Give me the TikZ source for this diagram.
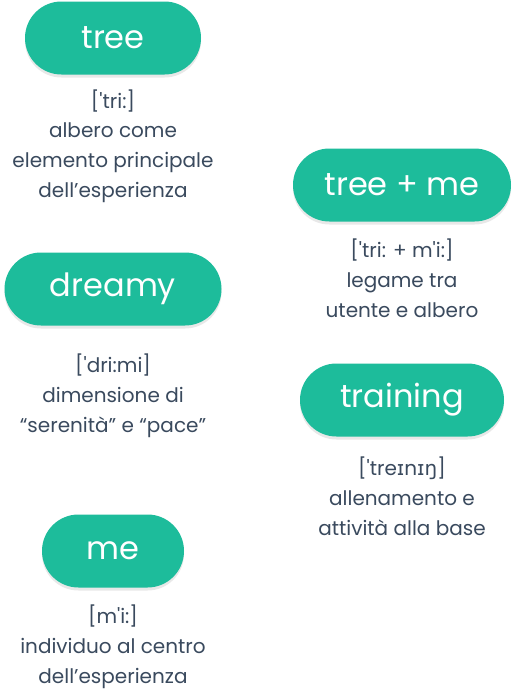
\documentclass[tikz,border=0pt]{standalone}
\usepackage{fontspec}
\newfontfamily\pop{Poppins}
\newfontfamily\dvs{DejaVu Sans}
\usetikzlibrary{shadows}
\definecolor{pillgreen}{HTML}{1DBC9B}
\definecolor{subtext}{HTML}{3A4A5E}
\tikzset{
  pill/.style={fill=pillgreen, text=white, rounded corners=36.5pt, minimum height=73pt,
    inner sep=0pt, font=\pop\fontsize{32}{38}\selectfont,
    drop shadow={opacity=0.18, shadow xshift=0pt, shadow yshift=-3pt}},
  subline/.style={text=subtext, font=\pop\fontsize{20}{29.6}\selectfont, align=center,
    inner sep=0pt, anchor=base}
}
\begin{document}
\begin{tikzpicture}[x=1pt,y=-1pt]
\useasboundingbox[fill=white] (0,0) rectangle (516,696);
% pills
\node[pill, minimum width=176pt] (tree) at (113,38) {tree};
\node[pill, minimum width=218pt] (treeme) at (402,185) {tree + me};
\node[pill, minimum width=217pt] (dreamy) at (113,289) {dreamy};
\node[pill, minimum width=204pt] (training) at (402,400) {training};
\node[pill, minimum width=142pt] (me) at (113,551) {me};
% descriptions (anchor = baseline of last line)
\node[subline] (treeD) at (113,197) {['tri:]\\albero come\\elemento principale\\dell’esperienza};
\node[subline] (treemeD) at (402,317) {['tri: + m'i:]\\legame tra\\utente e albero};
\node[subline] (dreamyD) at (113,432) {['dri:mi]\\dimensione di\\“serenità” e “pace”};
\node[subline] (trainingD) at (402,535) {['tre{\dvs ɪ}n{\dvs ɪŋ}]\\allenamento e\\attività alla base};
\node[subline] (meD) at (113,683) {[m'i:]\\individuo al centro\\dell’esperienza};
\end{tikzpicture}
\end{document}
